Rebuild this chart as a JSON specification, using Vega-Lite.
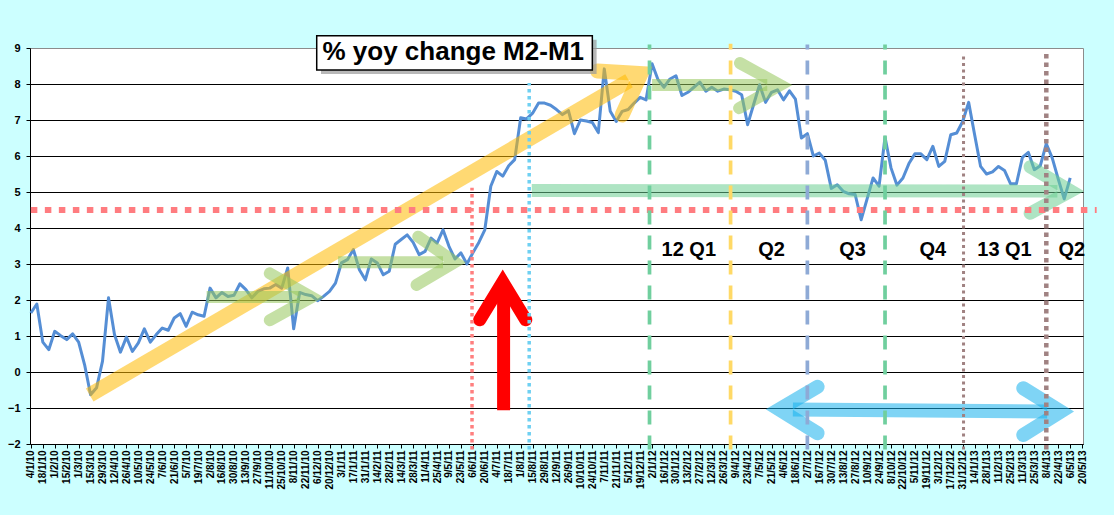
{
  "$schema": "https://vega.github.io/schema/vega-lite/v6.json",
  "width": 1053,
  "height": 396,
  "autosize": {"type": "none"},
  "padding": {"left": 30, "top": 48, "right": 31, "bottom": 71},
  "background": "#ccffff",
  "config": {
    "font": "Liberation Sans",
    "view": {"fill": "white", "stroke": "#8c8c8c", "strokeWidth": 1}
  },
  "datasets": {
    "series": [
      {"date": "2010-01-04", "value": 1.64}, {"date": "2010-01-11", "value": 1.89}, {"date": "2010-01-18", "value": 0.83}, {"date": "2010-01-25", "value": 0.62},
      {"date": "2010-02-01", "value": 1.13}, {"date": "2010-02-08", "value": 1.01}, {"date": "2010-02-15", "value": 0.90}, {"date": "2010-02-22", "value": 1.06},
      {"date": "2010-03-01", "value": 0.83}, {"date": "2010-03-08", "value": 0.20}, {"date": "2010-03-15", "value": -0.63}, {"date": "2010-03-22", "value": -0.44}, {"date": "2010-03-29", "value": 0.30},
      {"date": "2010-04-05", "value": 2.06}, {"date": "2010-04-12", "value": 1.04}, {"date": "2010-04-19", "value": 0.55}, {"date": "2010-04-26", "value": 0.97},
      {"date": "2010-05-03", "value": 0.57}, {"date": "2010-05-10", "value": 0.81}, {"date": "2010-05-17", "value": 1.20}, {"date": "2010-05-24", "value": 0.83}, {"date": "2010-05-31", "value": 1.04},
      {"date": "2010-06-07", "value": 1.22}, {"date": "2010-06-14", "value": 1.16}, {"date": "2010-06-21", "value": 1.50}, {"date": "2010-06-28", "value": 1.62},
      {"date": "2010-07-05", "value": 1.27}, {"date": "2010-07-12", "value": 1.66}, {"date": "2010-07-19", "value": 1.59}, {"date": "2010-07-26", "value": 1.55},
      {"date": "2010-08-02", "value": 2.33}, {"date": "2010-08-09", "value": 2.06}, {"date": "2010-08-16", "value": 2.21}, {"date": "2010-08-23", "value": 2.10}, {"date": "2010-08-30", "value": 2.13},
      {"date": "2010-09-06", "value": 2.45}, {"date": "2010-09-13", "value": 2.29}, {"date": "2010-09-20", "value": 2.06}, {"date": "2010-09-27", "value": 2.24},
      {"date": "2010-10-04", "value": 2.31}, {"date": "2010-10-11", "value": 2.33}, {"date": "2010-10-18", "value": 2.43}, {"date": "2010-10-25", "value": 2.33},
      {"date": "2010-11-01", "value": 2.89}, {"date": "2010-11-08", "value": 1.20}, {"date": "2010-11-15", "value": 2.21}, {"date": "2010-11-22", "value": 2.15}, {"date": "2010-11-29", "value": 2.12},
      {"date": "2010-12-06", "value": 1.98}, {"date": "2010-12-13", "value": 2.10}, {"date": "2010-12-20", "value": 2.24}, {"date": "2010-12-27", "value": 2.47},
      {"date": "2011-01-03", "value": 3.03}, {"date": "2011-01-10", "value": 3.12}, {"date": "2011-01-17", "value": 3.40}, {"date": "2011-01-24", "value": 2.84}, {"date": "2011-01-31", "value": 2.56},
      {"date": "2011-02-07", "value": 3.14}, {"date": "2011-02-14", "value": 3.03}, {"date": "2011-02-21", "value": 2.70}, {"date": "2011-02-28", "value": 2.80},
      {"date": "2011-03-07", "value": 3.55}, {"date": "2011-03-14", "value": 3.68}, {"date": "2011-03-21", "value": 3.81}, {"date": "2011-03-28", "value": 3.60},
      {"date": "2011-04-04", "value": 3.26}, {"date": "2011-04-11", "value": 3.35}, {"date": "2011-04-18", "value": 3.72}, {"date": "2011-04-25", "value": 3.58},
      {"date": "2011-05-02", "value": 3.95}, {"date": "2011-05-09", "value": 3.49}, {"date": "2011-05-16", "value": 3.14}, {"date": "2011-05-23", "value": 3.31}, {"date": "2011-05-30", "value": 3.00},
      {"date": "2011-06-06", "value": 3.31}, {"date": "2011-06-13", "value": 3.60}, {"date": "2011-06-20", "value": 3.95}, {"date": "2011-06-27", "value": 5.16},
      {"date": "2011-07-04", "value": 5.57}, {"date": "2011-07-11", "value": 5.44}, {"date": "2011-07-18", "value": 5.73}, {"date": "2011-07-25", "value": 5.90},
      {"date": "2011-08-01", "value": 7.06}, {"date": "2011-08-08", "value": 7.03}, {"date": "2011-08-15", "value": 7.19}, {"date": "2011-08-22", "value": 7.47}, {"date": "2011-08-29", "value": 7.47},
      {"date": "2011-09-05", "value": 7.41}, {"date": "2011-09-12", "value": 7.29}, {"date": "2011-09-19", "value": 7.15}, {"date": "2011-09-26", "value": 7.26},
      {"date": "2011-10-03", "value": 6.62}, {"date": "2011-10-10", "value": 7.00}, {"date": "2011-10-17", "value": 6.97}, {"date": "2011-10-24", "value": 6.93}, {"date": "2011-10-31", "value": 6.65},
      {"date": "2011-11-07", "value": 8.42}, {"date": "2011-11-14", "value": 7.24}, {"date": "2011-11-21", "value": 6.96}, {"date": "2011-11-28", "value": 7.24},
      {"date": "2011-12-05", "value": 7.29}, {"date": "2011-12-12", "value": 7.47}, {"date": "2011-12-19", "value": 7.63}, {"date": "2011-12-26", "value": 7.56},
      {"date": "2012-01-02", "value": 8.56}, {"date": "2012-01-09", "value": 8.12}, {"date": "2012-01-16", "value": 7.91}, {"date": "2012-01-23", "value": 8.14}, {"date": "2012-01-30", "value": 8.23},
      {"date": "2012-02-06", "value": 7.68}, {"date": "2012-02-13", "value": 7.77}, {"date": "2012-02-20", "value": 7.91}, {"date": "2012-02-27", "value": 8.05},
      {"date": "2012-03-05", "value": 7.80}, {"date": "2012-03-12", "value": 7.91}, {"date": "2012-03-19", "value": 7.80}, {"date": "2012-03-26", "value": 7.86},
      {"date": "2012-04-02", "value": 7.84}, {"date": "2012-04-09", "value": 7.80}, {"date": "2012-04-16", "value": 7.70}, {"date": "2012-04-23", "value": 6.87}, {"date": "2012-04-30", "value": 7.43},
      {"date": "2012-05-07", "value": 7.98}, {"date": "2012-05-14", "value": 7.49}, {"date": "2012-05-21", "value": 7.77}, {"date": "2012-05-28", "value": 7.84},
      {"date": "2012-06-04", "value": 7.56}, {"date": "2012-06-11", "value": 7.81}, {"date": "2012-06-18", "value": 7.58}, {"date": "2012-06-25", "value": 6.50},
      {"date": "2012-07-02", "value": 6.62}, {"date": "2012-07-09", "value": 6.00}, {"date": "2012-07-16", "value": 6.08}, {"date": "2012-07-23", "value": 5.88}, {"date": "2012-07-30", "value": 5.10},
      {"date": "2012-08-06", "value": 5.20}, {"date": "2012-08-13", "value": 5.02}, {"date": "2012-08-20", "value": 4.95}, {"date": "2012-08-27", "value": 4.93},
      {"date": "2012-09-03", "value": 4.23}, {"date": "2012-09-10", "value": 4.81}, {"date": "2012-09-17", "value": 5.39}, {"date": "2012-09-24", "value": 5.16},
      {"date": "2012-10-01", "value": 6.52}, {"date": "2012-10-08", "value": 5.67}, {"date": "2012-10-15", "value": 5.19}, {"date": "2012-10-22", "value": 5.39}, {"date": "2012-10-29", "value": 5.79},
      {"date": "2012-11-05", "value": 6.06}, {"date": "2012-11-12", "value": 6.06}, {"date": "2012-11-19", "value": 5.90}, {"date": "2012-11-26", "value": 6.27},
      {"date": "2012-12-03", "value": 5.71}, {"date": "2012-12-10", "value": 5.85}, {"date": "2012-12-17", "value": 6.59}, {"date": "2012-12-24", "value": 6.64}, {"date": "2012-12-31", "value": 6.96},
      {"date": "2013-01-07", "value": 7.49}, {"date": "2013-01-14", "value": 6.59}, {"date": "2013-01-21", "value": 5.71}, {"date": "2013-01-28", "value": 5.50},
      {"date": "2013-02-04", "value": 5.56}, {"date": "2013-02-11", "value": 5.71}, {"date": "2013-02-18", "value": 5.60}, {"date": "2013-02-25", "value": 5.23},
      {"date": "2013-03-04", "value": 5.23}, {"date": "2013-03-11", "value": 5.96}, {"date": "2013-03-18", "value": 6.10}, {"date": "2013-03-25", "value": 5.62},
      {"date": "2013-04-01", "value": 5.73}, {"date": "2013-04-08", "value": 6.34}, {"date": "2013-04-15", "value": 5.94}, {"date": "2013-04-22", "value": 5.36}, {"date": "2013-04-29", "value": 4.81},
      {"date": "2013-05-06", "value": 5.39}
    ],
    "arrows": [
      {"arrow": "yellow", "part": "head", "o": 1, "date": "2011-10-30", "value": 8.36},
      {"arrow": "yellow", "part": "head", "o": 2, "date": "2011-12-20", "value": 8.29},
      {"arrow": "yellow", "part": "head", "o": 3, "date": "2011-11-28", "value": 7.14},
      {"arrow": "yellow", "part": "shaft", "o": 1, "date": "2010-03-14", "value": -0.64},
      {"arrow": "yellow", "part": "shaft", "o": 2, "date": "2011-12-06", "value": 8.09},
      {"arrow": "g1", "part": "head", "o": 1, "date": "2010-10-11", "value": 2.74},
      {"arrow": "g1", "part": "head", "o": 2, "date": "2010-11-29", "value": 2.08},
      {"arrow": "g1", "part": "head", "o": 3, "date": "2010-10-11", "value": 1.44},
      {"arrow": "g1", "part": "shaft", "o": 1, "date": "2010-07-29", "value": 2.08},
      {"arrow": "g1", "part": "shaft", "o": 2, "date": "2010-11-15", "value": 2.08},
      {"arrow": "g2", "part": "head", "o": 1, "date": "2011-04-03", "value": 3.76},
      {"arrow": "g2", "part": "head", "o": 2, "date": "2011-05-16", "value": 3.05},
      {"arrow": "g2", "part": "head", "o": 3, "date": "2011-04-01", "value": 2.42},
      {"arrow": "g2", "part": "shaft", "o": 1, "date": "2010-12-30", "value": 3.05},
      {"arrow": "g2", "part": "shaft", "o": 2, "date": "2011-05-02", "value": 3.05},
      {"arrow": "g3", "part": "head", "o": 1, "date": "2012-04-14", "value": 8.58},
      {"arrow": "g3", "part": "head", "o": 2, "date": "2012-05-31", "value": 7.97},
      {"arrow": "g3", "part": "head", "o": 3, "date": "2012-04-13", "value": 7.33},
      {"arrow": "g3", "part": "shaft", "o": 1, "date": "2012-01-02", "value": 7.97},
      {"arrow": "g3", "part": "shaft", "o": 2, "date": "2012-05-16", "value": 7.97},
      {"arrow": "long", "part": "head", "o": 1, "date": "2013-03-20", "value": 5.70},
      {"arrow": "long", "part": "head", "o": 2, "date": "2013-05-07", "value": 5.03},
      {"arrow": "long", "part": "head", "o": 3, "date": "2013-03-20", "value": 4.41},
      {"arrow": "long", "part": "shaft", "o": 1, "date": "2011-08-14", "value": 5.04},
      {"arrow": "long", "part": "shaft", "o": 2, "date": "2013-04-21", "value": 5.03},
      {"arrow": "blueL", "part": "head", "o": 1, "date": "2012-07-14", "value": -0.41},
      {"arrow": "blueL", "part": "head", "o": 2, "date": "2012-05-30", "value": -1.04},
      {"arrow": "blueL", "part": "head", "o": 3, "date": "2012-07-14", "value": -1.70},
      {"arrow": "blueR", "part": "head", "o": 1, "date": "2013-03-12", "value": -0.45},
      {"arrow": "blueR", "part": "head", "o": 2, "date": "2013-04-25", "value": -1.10},
      {"arrow": "blueR", "part": "head", "o": 3, "date": "2013-03-12", "value": -1.75},
      {"arrow": "blue", "part": "shaft", "o": 1, "date": "2012-06-15", "value": -1.04},
      {"arrow": "blue", "part": "shaft", "o": 2, "date": "2013-04-09", "value": -1.10},
      {"arrow": "red", "part": "head", "o": 1, "date": "2011-06-14", "value": 1.45},
      {"arrow": "red", "part": "head", "o": 2, "date": "2011-07-11", "value": 2.5},
      {"arrow": "red", "part": "head", "o": 3, "date": "2011-08-07", "value": 1.45},
      {"arrow": "red", "part": "shaft", "o": 1, "date": "2011-07-12", "value": -1.06},
      {"arrow": "red", "part": "shaft", "o": 2, "date": "2011-07-12", "value": 2.4}
    ],
    "hline": [
      {"date": "2010-01-04", "value": 4.5},
      {"date": "2013-06-06", "value": 4.5}
    ],
    "vlines": [
      {"id": "jun11", "date": "2011-06-05", "value": -2.15, "value2": 5.12},
      {"id": "aug11", "date": "2011-08-11", "value": -2.15, "value2": 8.03},
      {"id": "q1", "date": "2011-12-30", "value": -2.15, "value2": 9.1},
      {"id": "q2", "date": "2012-04-03", "value": -2.15, "value2": 9.12},
      {"id": "q3", "date": "2012-07-02", "value": -2.15, "value2": 9.1},
      {"id": "q4", "date": "2012-10-01", "value": -2.15, "value2": 9.1},
      {"id": "q5", "date": "2013-01-01", "value": -2.15, "value2": 8.8},
      {"id": "q6", "date": "2013-04-08", "value": -2.15, "value2": 8.92}
    ],
    "labels": [
      {"text": "12 Q1", "date": "2012-02-14", "value": 3.38},
      {"text": "Q2", "date": "2012-05-21", "value": 3.38},
      {"text": "Q3", "date": "2012-08-24", "value": 3.38},
      {"text": "Q4", "date": "2012-11-26", "value": 3.38},
      {"text": "13 Q1", "date": "2013-02-18", "value": 3.38},
      {"text": "Q2", "date": "2013-05-08", "value": 3.38}
    ],
    "box": [
      {"id": "shadow", "date": "2010-12-10", "date2": "2011-10-29", "value": 8.28, "value2": 9.23},
      {"id": "box", "date": "2010-12-05", "date2": "2011-10-24", "value": 8.39, "value2": 9.34}
    ],
    "title": [
      {"text": "% yoy change M2-M1", "date": "2011-05-14", "value": 8.89}
    ]
  },
  "encoding": {
    "x": {
      "field": "date",
      "type": "temporal",
      "scale": {
        "type": "utc",
        "domain": [
          {"year": 2010, "month": 1, "date": 3, "utc": true},
          {"year": 2013, "month": 5, "date": 21, "utc": true}
        ]
      },
      "axis": {
        "title": null,
        "grid": false,
        "format": "%-d/%-m/%y",
        "labelAngle": 270,
        "labelFont": "Liberation Sans",
        "labelFontSize": 10,
        "labelFontWeight": "bold",
        "labelColor": "black",
        "labelPadding": 2,
        "labelOverlap": false,
        "labelFlush": false,
        "labelBound": false,
        "tickColor": "black",
        "tickSize": 4,
        "domainColor": "black",
        "values": [
          {"year": 2010, "month": 1, "date": 4, "utc": true}, {"year": 2010, "month": 1, "date": 18, "utc": true},
          {"year": 2010, "month": 2, "date": 1, "utc": true}, {"year": 2010, "month": 2, "date": 15, "utc": true},
          {"year": 2010, "month": 3, "date": 1, "utc": true}, {"year": 2010, "month": 3, "date": 15, "utc": true}, {"year": 2010, "month": 3, "date": 29, "utc": true},
          {"year": 2010, "month": 4, "date": 12, "utc": true}, {"year": 2010, "month": 4, "date": 26, "utc": true},
          {"year": 2010, "month": 5, "date": 10, "utc": true}, {"year": 2010, "month": 5, "date": 24, "utc": true},
          {"year": 2010, "month": 6, "date": 7, "utc": true}, {"year": 2010, "month": 6, "date": 21, "utc": true},
          {"year": 2010, "month": 7, "date": 5, "utc": true}, {"year": 2010, "month": 7, "date": 19, "utc": true},
          {"year": 2010, "month": 8, "date": 2, "utc": true}, {"year": 2010, "month": 8, "date": 16, "utc": true}, {"year": 2010, "month": 8, "date": 30, "utc": true},
          {"year": 2010, "month": 9, "date": 13, "utc": true}, {"year": 2010, "month": 9, "date": 27, "utc": true},
          {"year": 2010, "month": 10, "date": 11, "utc": true}, {"year": 2010, "month": 10, "date": 25, "utc": true},
          {"year": 2010, "month": 11, "date": 8, "utc": true}, {"year": 2010, "month": 11, "date": 22, "utc": true},
          {"year": 2010, "month": 12, "date": 6, "utc": true}, {"year": 2010, "month": 12, "date": 20, "utc": true},
          {"year": 2011, "month": 1, "date": 3, "utc": true}, {"year": 2011, "month": 1, "date": 17, "utc": true}, {"year": 2011, "month": 1, "date": 31, "utc": true},
          {"year": 2011, "month": 2, "date": 14, "utc": true}, {"year": 2011, "month": 2, "date": 28, "utc": true},
          {"year": 2011, "month": 3, "date": 14, "utc": true}, {"year": 2011, "month": 3, "date": 28, "utc": true},
          {"year": 2011, "month": 4, "date": 11, "utc": true}, {"year": 2011, "month": 4, "date": 25, "utc": true},
          {"year": 2011, "month": 5, "date": 9, "utc": true}, {"year": 2011, "month": 5, "date": 23, "utc": true},
          {"year": 2011, "month": 6, "date": 6, "utc": true}, {"year": 2011, "month": 6, "date": 20, "utc": true},
          {"year": 2011, "month": 7, "date": 4, "utc": true}, {"year": 2011, "month": 7, "date": 18, "utc": true},
          {"year": 2011, "month": 8, "date": 1, "utc": true}, {"year": 2011, "month": 8, "date": 15, "utc": true}, {"year": 2011, "month": 8, "date": 29, "utc": true},
          {"year": 2011, "month": 9, "date": 12, "utc": true}, {"year": 2011, "month": 9, "date": 26, "utc": true},
          {"year": 2011, "month": 10, "date": 10, "utc": true}, {"year": 2011, "month": 10, "date": 24, "utc": true},
          {"year": 2011, "month": 11, "date": 7, "utc": true}, {"year": 2011, "month": 11, "date": 21, "utc": true},
          {"year": 2011, "month": 12, "date": 5, "utc": true}, {"year": 2011, "month": 12, "date": 19, "utc": true},
          {"year": 2012, "month": 1, "date": 2, "utc": true}, {"year": 2012, "month": 1, "date": 16, "utc": true}, {"year": 2012, "month": 1, "date": 30, "utc": true},
          {"year": 2012, "month": 2, "date": 13, "utc": true}, {"year": 2012, "month": 2, "date": 27, "utc": true},
          {"year": 2012, "month": 3, "date": 12, "utc": true}, {"year": 2012, "month": 3, "date": 26, "utc": true},
          {"year": 2012, "month": 4, "date": 9, "utc": true}, {"year": 2012, "month": 4, "date": 23, "utc": true},
          {"year": 2012, "month": 5, "date": 7, "utc": true}, {"year": 2012, "month": 5, "date": 21, "utc": true},
          {"year": 2012, "month": 6, "date": 4, "utc": true}, {"year": 2012, "month": 6, "date": 18, "utc": true},
          {"year": 2012, "month": 7, "date": 2, "utc": true}, {"year": 2012, "month": 7, "date": 16, "utc": true}, {"year": 2012, "month": 7, "date": 30, "utc": true},
          {"year": 2012, "month": 8, "date": 13, "utc": true}, {"year": 2012, "month": 8, "date": 27, "utc": true},
          {"year": 2012, "month": 9, "date": 10, "utc": true}, {"year": 2012, "month": 9, "date": 24, "utc": true},
          {"year": 2012, "month": 10, "date": 8, "utc": true}, {"year": 2012, "month": 10, "date": 22, "utc": true},
          {"year": 2012, "month": 11, "date": 5, "utc": true}, {"year": 2012, "month": 11, "date": 19, "utc": true},
          {"year": 2012, "month": 12, "date": 3, "utc": true}, {"year": 2012, "month": 12, "date": 17, "utc": true}, {"year": 2012, "month": 12, "date": 31, "utc": true},
          {"year": 2013, "month": 1, "date": 14, "utc": true}, {"year": 2013, "month": 1, "date": 28, "utc": true},
          {"year": 2013, "month": 2, "date": 11, "utc": true}, {"year": 2013, "month": 2, "date": 25, "utc": true},
          {"year": 2013, "month": 3, "date": 11, "utc": true}, {"year": 2013, "month": 3, "date": 25, "utc": true},
          {"year": 2013, "month": 4, "date": 8, "utc": true}, {"year": 2013, "month": 4, "date": 22, "utc": true},
          {"year": 2013, "month": 5, "date": 6, "utc": true}, {"year": 2013, "month": 5, "date": 20, "utc": true}
        ]
      }
    },
    "y": {
      "field": "value",
      "type": "quantitative",
      "scale": {"domain": [-2, 9], "nice": false, "zero": false},
      "axis": {
        "title": null,
        "values": [-2, -1, 0, 1, 2, 3, 4, 5, 6, 7, 8, 9],
        "grid": true,
        "gridColor": {"condition": {"test": "datum.value === 9", "value": "transparent"}, "value": "black"},
        "gridOpacity": 1,
        "gridWidth": 1,
        "labelFont": "Liberation Sans",
        "labelFontSize": 11,
        "labelFontWeight": "bold",
        "labelColor": "black",
        "labelPadding": 6,
        "tickColor": "black",
        "tickSize": 4,
        "domainColor": "black"
      }
    }
  },
  "layer": [
    {
      "data": {"name": "series"},
      "mark": {"type": "line", "color": "#558ed5", "strokeWidth": 3, "strokeJoin": "round"}
    },
    {
      "data": {"name": "arrows"},
      "transform": [{"filter": "datum.arrow === 'yellow' && datum.part === 'shaft'"}],
      "mark": {"type": "line", "color": "#ffba00", "opacity": 0.55, "strokeWidth": 15, "strokeCap": "butt"},
      "encoding": {"order": {"field": "o"}}
    },
    {
      "data": {"name": "arrows"},
      "transform": [{"filter": "datum.arrow === 'yellow' && datum.part === 'head'"}],
      "mark": {"type": "line", "color": "#ffba00", "opacity": 0.55, "strokeWidth": 15, "strokeCap": "round", "strokeJoin": "miter", "strokeMiterLimit": 10},
      "encoding": {"order": {"field": "o"}}
    },
    {
      "data": {"name": "arrows"},
      "transform": [{"filter": "indexof(['g1','g2','g3'], datum.arrow) >= 0 && datum.part === 'shaft'"}],
      "mark": {"type": "line", "color": "#95c75b", "opacity": 0.55, "strokeWidth": 12, "strokeCap": "butt"},
      "encoding": {"detail": {"field": "arrow"}, "order": {"field": "o"}}
    },
    {
      "data": {"name": "arrows"},
      "transform": [{"filter": "indexof(['g1','g2','g3'], datum.arrow) >= 0 && datum.part === 'head'"}],
      "mark": {"type": "line", "color": "#95c75b", "opacity": 0.55, "strokeWidth": 12, "strokeCap": "round", "strokeJoin": "miter", "strokeMiterLimit": 10},
      "encoding": {"detail": {"field": "arrow"}, "order": {"field": "o"}}
    },
    {
      "data": {"name": "arrows"},
      "transform": [{"filter": "datum.arrow === 'long' && datum.part === 'shaft'"}],
      "mark": {"type": "line", "color": "#6cce92", "opacity": 0.55, "strokeWidth": 13, "strokeCap": "butt"},
      "encoding": {"order": {"field": "o"}}
    },
    {
      "data": {"name": "arrows"},
      "transform": [{"filter": "datum.arrow === 'long' && datum.part === 'head'"}],
      "mark": {"type": "line", "color": "#6cce92", "opacity": 0.55, "strokeWidth": 13, "strokeCap": "round", "strokeJoin": "miter", "strokeMiterLimit": 10},
      "encoding": {"order": {"field": "o"}}
    },
    {
      "data": {"name": "arrows"},
      "transform": [{"filter": "datum.arrow === 'blue' && datum.part === 'shaft'"}],
      "mark": {"type": "line", "color": "#16b1ed", "opacity": 0.55, "strokeWidth": 14, "strokeCap": "butt"},
      "encoding": {"order": {"field": "o"}}
    },
    {
      "data": {"name": "arrows"},
      "transform": [{"filter": "(datum.arrow === 'blueL' || datum.arrow === 'blueR') && datum.part === 'head'"}],
      "mark": {"type": "line", "color": "#16b1ed", "opacity": 0.55, "strokeWidth": 14, "strokeCap": "round", "strokeJoin": "miter", "strokeMiterLimit": 10},
      "encoding": {"detail": {"field": "arrow"}, "order": {"field": "o"}}
    },
    {
      "data": {"name": "arrows"},
      "transform": [{"filter": "datum.arrow === 'red' && datum.part === 'shaft'"}],
      "mark": {"type": "line", "color": "#ff0000", "strokeWidth": 13, "strokeCap": "butt"},
      "encoding": {"order": {"field": "o"}}
    },
    {
      "data": {"name": "arrows"},
      "transform": [{"filter": "datum.arrow === 'red' && datum.part === 'head'"}],
      "mark": {"type": "line", "color": "#ff0000", "strokeWidth": 13, "strokeCap": "round", "strokeJoin": "miter", "strokeMiterLimit": 10},
      "encoding": {"order": {"field": "o"}}
    },
    {
      "data": {"name": "hline"},
      "mark": {"type": "line", "color": "#ff7c80", "strokeWidth": 6, "strokeDash": [6.5, 7.5], "strokeCap": "butt"}
    },
    {
      "data": {"name": "vlines"},
      "transform": [{"filter": "datum.id === 'jun11'"}],
      "mark": {"type": "rule", "color": "#ff7f7f", "strokeWidth": 3.5, "strokeDash": [3.5, 3.5]},
      "encoding": {"y2": {"field": "value2"}}
    },
    {
      "data": {"name": "vlines"},
      "transform": [{"filter": "datum.id === 'aug11'"}],
      "mark": {"type": "rule", "color": "#6fd0f2", "strokeWidth": 3.5, "strokeDash": [3.5, 3.5]},
      "encoding": {"y2": {"field": "value2"}}
    },
    {
      "data": {"name": "vlines"},
      "transform": [{"filter": "datum.id === 'q1' || datum.id === 'q4'"}],
      "mark": {"type": "rule", "color": "#70cf9e", "strokeWidth": 3.7, "strokeDash": [14, 11]},
      "encoding": {"y2": {"field": "value2"}}
    },
    {
      "data": {"name": "vlines"},
      "transform": [{"filter": "datum.id === 'q2'"}],
      "mark": {"type": "rule", "color": "#ffd966", "strokeWidth": 3.7, "strokeDash": [14, 11]},
      "encoding": {"y2": {"field": "value2"}}
    },
    {
      "data": {"name": "vlines"},
      "transform": [{"filter": "datum.id === 'q3'"}],
      "mark": {"type": "rule", "color": "#8eaad6", "strokeWidth": 3.7, "strokeDash": [14, 11]},
      "encoding": {"y2": {"field": "value2"}}
    },
    {
      "data": {"name": "vlines"},
      "transform": [{"filter": "datum.id === 'q5'"}],
      "mark": {"type": "rule", "color": "#a08282", "strokeWidth": 3, "strokeDash": [3, 3.5]},
      "encoding": {"y2": {"field": "value2"}}
    },
    {
      "data": {"name": "vlines"},
      "transform": [{"filter": "datum.id === 'q6'"}],
      "mark": {"type": "rule", "color": "#a08282", "strokeWidth": 4.5, "strokeDash": [4.5, 4]},
      "encoding": {"y2": {"field": "value2"}}
    },
    {
      "data": {"name": "labels"},
      "mark": {"type": "text", "font": "Liberation Sans", "fontSize": 20, "fontWeight": "bold", "color": "black", "align": "center", "baseline": "middle"},
      "encoding": {"text": {"field": "text"}}
    },
    {
      "data": {"name": "box"},
      "transform": [{"filter": "datum.id === 'shadow'"}],
      "mark": {"type": "rect", "color": "#9a9a9a", "opacity": 0.7},
      "encoding": {"x2": {"field": "date2"}, "y2": {"field": "value2"}}
    },
    {
      "data": {"name": "box"},
      "transform": [{"filter": "datum.id === 'box'"}],
      "mark": {"type": "rect", "fill": "white", "stroke": "black", "strokeWidth": 1.5},
      "encoding": {"x2": {"field": "date2"}, "y2": {"field": "value2"}}
    },
    {
      "data": {"name": "title"},
      "mark": {"type": "text", "font": "Liberation Sans", "fontSize": 26, "fontWeight": "bold", "color": "black", "align": "center", "baseline": "middle"},
      "encoding": {"text": {"field": "text"}}
    }
  ]
}
